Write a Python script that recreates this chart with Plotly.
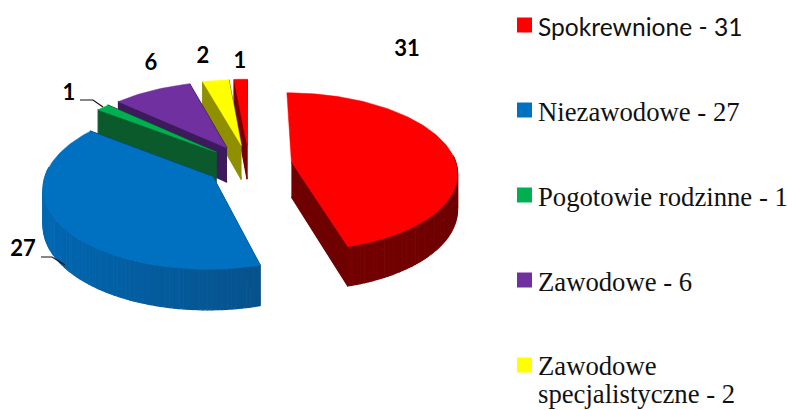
import math
import plotly.graph_objects as go

categories = ["Spokrewnione", "Niezawodowe", "Pogotowie rodzinne", "Zawodowe", "Zawodowe specjalistyczne", "Inne"]
values = [31, 27, 1, 6, 2, 1]
legend_lines = ["Spokrewnione - 31", "Niezawodowe - 27", "Pogotowie rodzinne - 1", "Zawodowe - 6",
                "Zawodowe", "specjalistyczne - 2"]
top_colors = ["#ff0000", "#0070c0", "#00b050", "#7030a0", "#ffff00", "#ff0000"]
wall_dark = ["#6e0000", "#0a4676", "#0b5a2c", "#3c1a5c", "#8f8f00", "#7a0000"]
wall_light = ["#7e0000", "#0068b4", "#0b5f30", "#4a2070", "#a5a500", "#8a0000"]

# view of the tilted pie, in page pixels
CX, CY = 249, 165
R = 165
PULL = 43
TILT = 0.475
PERSP = 0.12 / R
DEPTH = 35


def project(gx, gy, z=0.0):
    s = 1 / (1 + gy * PERSP)
    return CX + gx * s, CY - gy * TILT * s + z * s


def polar(center, theta, radius):
    return center[0] + radius * math.sin(theta), center[1] + radius * math.cos(theta)


total = sum(values)
fig = go.Figure()


def add_poly(points, color):
    fig.add_trace(go.Scatter(x=[p[0] for p in points], y=[p[1] for p in points], mode="lines",
                             fill="toself", fillcolor=color, line=dict(color=color, width=1.2),
                             hoverinfo="skip", showlegend=False))


slices = []
acc = 0
for i, v in enumerate(values):
    a0 = acc / total * 2 * math.pi
    acc += v
    a1 = acc / total * 2 * math.pi
    slices.append((i, a0, a1))

# back to front
for i in [5, 4, 3, 2, 1, 0]:
    _, a0, a1 = slices[i]
    mid = (a0 + a1) / 2
    c = polar((0, 0), mid, PULL)
    n = max(4, int((a1 - a0) * 40))
    thetas = [a0 + (a1 - a0) * k / n for k in range(n + 1)]
    rim = [polar(c, t, R) for t in thetas]
    # radial faces (the first slice's starting face looks away from the viewer)
    faces = [rim[-1]] if i == 0 else [rim[0], rim[-1]]
    for g in faces:
        add_poly([project(*c), project(*g), project(*g, DEPTH), project(*c, DEPTH)], wall_dark[i])
    # curved face, only where it turns towards the viewer
    for k in range(n):
        if math.cos(thetas[k]) > 0.1:
            continue
        f = 0.5 + 0.5 * math.cos(thetas[k] - 3 * math.pi / 2)
        a = wall_dark[i]
        b = wall_light[i]
        col = "#" + "".join("%02x" % round(int(a[j:j + 2], 16) * (1 - f) + int(b[j:j + 2], 16) * f) for j in (1, 3, 5))
        add_poly([project(*rim[k]), project(*rim[k + 1]), project(*rim[k + 1], DEPTH), project(*rim[k], DEPTH)], col)
    fig.add_trace(go.Scatter(x=[project(*p)[0] for p in [c] + rim], y=[project(*p)[1] for p in [c] + rim],
                             mode="lines", fill="toself", fillcolor=top_colors[i],
                             line=dict(color=top_colors[i], width=0.5), hoverinfo="skip", showlegend=False))

# leader lines
fig.add_trace(go.Scatter(x=[80, 93, 103, None, 41, 52, 65], y=[100, 100, 107, None, 257, 257, 265], mode="lines",
                         line=dict(color="#111111", width=1.2), hoverinfo="skip", showlegend=False))

# data labels
label_x = [407, 23, 69, 151, 203, 240]
label_y = [50, 250, 94, 64, 57, 62]
fig.add_trace(go.Scatter(x=label_x, y=label_y, mode="text", text=[str(v) for v in values],
                         textfont=dict(family="Lato", size=22, color="#000000", weight="bold"),
                         hoverinfo="skip", showlegend=False))

# legend
legend_y = [25, 110, 195, 280, 365]
legend_text_y = [26, 112, 197, 282, 366, 394]
fig.add_trace(go.Scatter(x=[524.5] * 5, y=legend_y, mode="markers",
                         marker=dict(symbol="square", size=15, color=top_colors[:5], line=dict(width=0)),
                         hoverinfo="skip", showlegend=False))
fonts = ["Lato"] + ["Liberation Serif"] * 5
sizes = [24.6] + [26.7] * 5
for k, lab in enumerate(legend_lines):
    fig.add_annotation(x=538, y=legend_text_y[k], text=lab, showarrow=False, xanchor="left",
                       yanchor="middle", align="left", borderpad=0, borderwidth=0,
                       font=dict(family=fonts[k], size=sizes[k], color="#111111"))

fig.update_xaxes(range=[0, 788], visible=False, fixedrange=True)
fig.update_yaxes(range=[410, 0], visible=False, fixedrange=True)
fig.update_layout(width=788, height=410, margin=dict(l=0, r=0, t=0, b=0), showlegend=False,
                  paper_bgcolor="white", plot_bgcolor="white")
fig.write_html("out.html", config={"displayModeBar": False},
               post_script="document.body.style.margin='0';document.body.style.overflow='hidden';")
